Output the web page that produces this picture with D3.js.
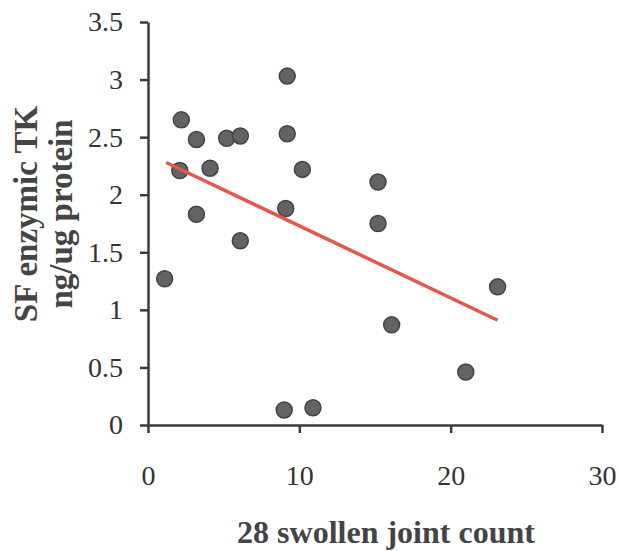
<!DOCTYPE html>
<html>
<head>
<meta charset="utf-8">
<script src="https://cdn.jsdelivr.net/npm/d3@7"></script>
<style>
  body { margin: 0; background: #fff; }
  #container { width: 620px; height: 551px; }
</style>
</head>
<body>
<div id="container"></div>
<script>
////////// DATA

var jointCount = [1.1, 2.2, 2.1, 3.2, 3.2, 4.1, 5.2, 6.1, 6.1, 9.2, 9.2, 9.1, 9.0, 10.2, 10.9, 15.2, 15.2, 16.1, 21.0, 23.1];
var enzymicTK  = [1.27, 2.65, 2.21, 2.48, 1.83, 2.23, 2.49, 2.51, 1.60, 3.03, 2.53, 1.88, 0.13, 2.22, 0.15, 2.11, 1.75, 0.87, 0.46, 1.20];

var trendX = [1.2, 23.1]; // fitted line end points
var trendY = [2.28, 0.91];

var xTicks = [0, 10, 20, 30];
var yTicks = [0, 0.5, 1, 1.5, 2, 2.5, 3, 3.5];

var xTitle = "28 swollen joint count";
var yTitle = ["SF enzymic TK", "ng/ug protein"];

////////// DRAW

var svg = d3.select("#container").append("svg")
	.attr("width", 620)
	.attr("height", 551);

var x = d3.scaleLinear().domain([0, 30]).range([148, 602]);
var y = d3.scaleLinear().domain([0, 3.5]).range([425, 22]);

var axisColor = "#3a3a3a";
var serif = "'Liberation Serif', 'Times New Roman', serif";

// X axis
var gx = svg.append("g")
	.attr("transform", "translate(0," + y(0) + ")")
	.call(d3.axisBottom(x).tickValues(xTicks).tickSize(8).tickSizeOuter(0).tickPadding(32).tickFormat(d3.format("d")));

// Y axis
var gy = svg.append("g")
	.attr("transform", "translate(" + x(0) + ",0)")
	.call(d3.axisLeft(y).tickValues(yTicks).tickSize(8).tickSizeOuter(0).tickPadding(17).tickFormat(function(d) { return d; }));

[gx, gy].forEach(function(g)
{
	g.select(".domain").attr("stroke", axisColor).attr("stroke-width", 2.5);
	g.selectAll(".tick line").attr("stroke", axisColor).attr("stroke-width", 2.5);
	g.selectAll(".tick text")
		.attr("fill", "#333")
		.style("font-family", serif)
		.style("font-size", "28px");
});

// points
svg.selectAll(".pt").data(jointCount).enter().append("circle")
	.attr("class", "pt")
	.attr("cx", function(d) { return x(d); })
	.attr("cy", function(d, i) { return y(enzymicTK[i]); })
	.attr("r", 8)
	.attr("fill", "#636363")
	.attr("stroke", "#444444")
	.attr("stroke-width", 1.5);

// trend line
svg.append("line")
	.attr("x1", x(trendX[0]))
	.attr("y1", y(trendY[0]))
	.attr("x2", x(trendX[1]))
	.attr("y2", y(trendY[1]))
	.attr("stroke", "#e5574b")
	.attr("stroke-width", 3.5);

// axis titles
svg.append("text")
	.attr("x", 386)
	.attr("y", 543)
	.attr("text-anchor", "middle")
	.attr("fill", "#444")
	.style("font-family", serif)
	.style("font-weight", "bold")
	.style("font-size", "32px")
	.text(xTitle);

svg.selectAll(".ytitle").data(yTitle).enter().append("text")
	.attr("class", "ytitle")
	.attr("transform", function(d, i) { return "translate(" + (37 + i * 35) + ",214) rotate(-90)"; })
	.attr("text-anchor", "middle")
	.attr("fill", "#444")
	.style("font-family", serif)
	.style("font-weight", "bold")
	.style("font-size", "33px")
	.text(function(d) { return d; });
</script>
</body>
</html>
